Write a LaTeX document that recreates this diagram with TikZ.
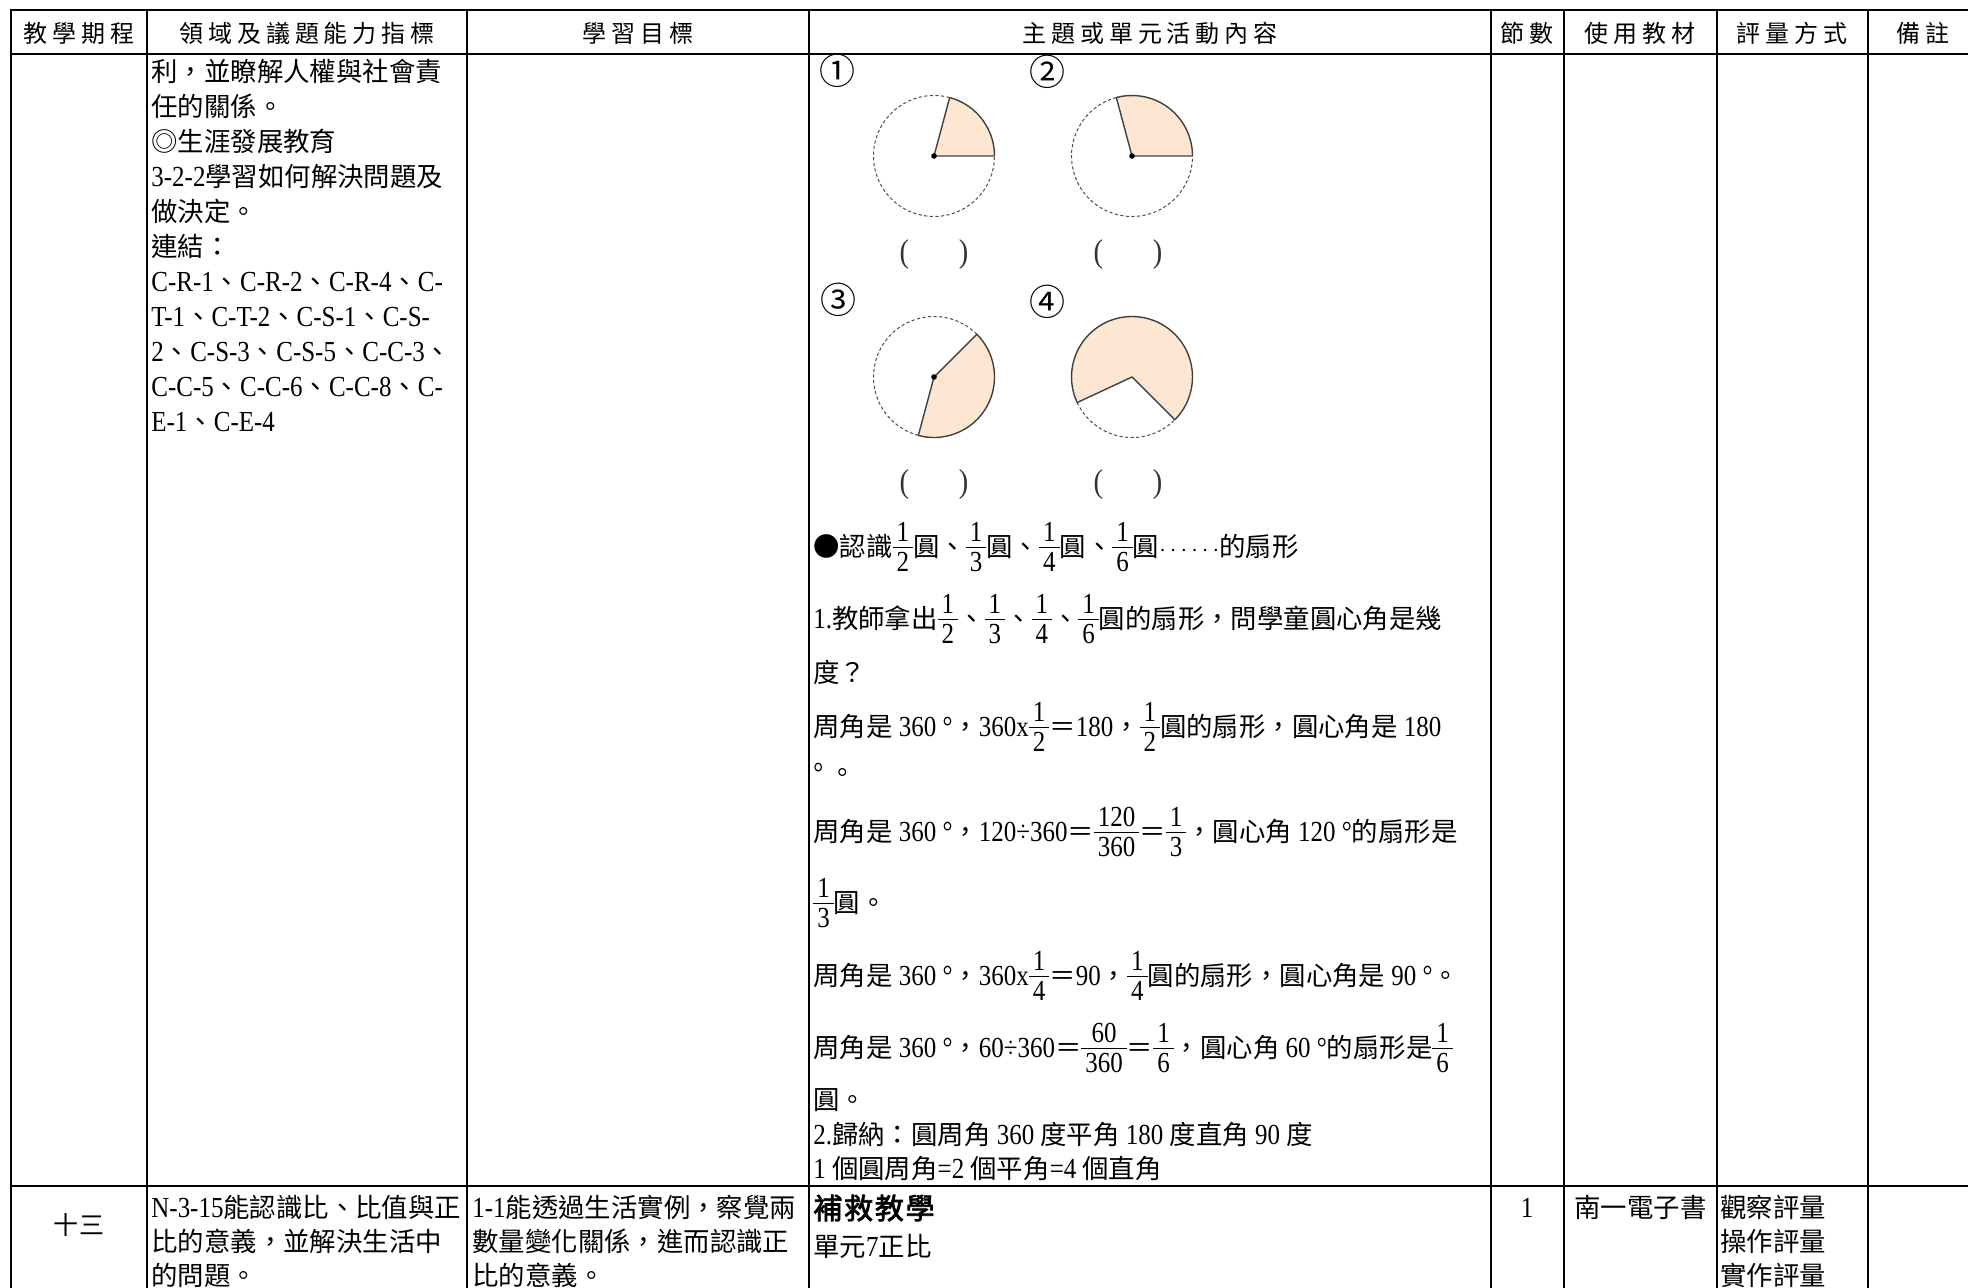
\documentclass[tikz,border=0pt]{standalone}
\usepackage{fontspec}
\setmainfont{Liberation Serif}[Scale=1.1,FakeStretch=0.86]
\newfontfamily\cjkbody{Noto Sans CJK TC}
\newfontfamily\cjkhead{Noto Sans CJK TC}[LetterSpace=20]
\newfontfamily\cjkbold{Noto Sans CJK TC}[FakeBold=2.5,LetterSpace=6]
\def\cjkfont{\cjkbody}
\def\latfont{\rmfamily}
% switch between Latin and CJK fonts by character class
\newXeTeXintercharclass\cjkclass
\newcount\cjkcnt
\def\setcjk#1#2{\cjkcnt=#1 \loop \XeTeXcharclass\cjkcnt=\cjkclass
  \ifnum\cjkcnt<#2 \advance\cjkcnt by 1 \repeat}
\setcjk{"3000}{"303F}
\setcjk{"4E00}{"9FFF}
\setcjk{"FF00}{"FFEF}
\setcjk{"25CE}{"25CF}
\setcjk{"2460}{"2473}
\XeTeXinterchartoks 0 \cjkclass = {\cjkfont}
\XeTeXinterchartoks 4095 \cjkclass = {\cjkfont}
\XeTeXinterchartoks \cjkclass 0 = {\latfont}
\XeTeXinterchartoks \cjkclass 4095 = {\latfont}
\XeTeXinterchartokenstate=1
% stacked fraction in the text font
\newcommand\fr[2]{{\renewcommand\arraystretch{1.0}\setlength\arrayrulewidth{0.6pt}%
  \begin{tabular}{@{\hspace{2pt}}c@{\hspace{2pt}}}#1\\[-2.5pt]\hline #2\end{tabular}}}
\definecolor{fanfill}{RGB}{253,231,211}

\begin{document}
\begin{tikzpicture}[x=0.5pt, y=-0.5pt,
  gridline/.style={line width=1.1pt, line cap=rect},
  headtxt/.style={inner sep=0pt, font=\fontsize{12}{14}\selectfont\def\cjkfont{\cjkhead}},
  bodytxt/.style={anchor=base west, inner sep=0pt, font=\fontsize{13.2}{17}\selectfont},
  boldtxt/.style={anchor=base west, inner sep=0pt, font=\fontsize{14.5}{17}\selectfont\def\cjkfont{\cjkbold}},
  numtxt/.style={inner sep=0pt, font=\fontsize{18}{20}\selectfont},
  partxt/.style={inner sep=0pt, font=\fontsize{15}{18}\selectfont, text=black!80},
  fanarea/.style={fill=fanfill},
  fanrim/.style={draw=black!70, line width=0.5pt, dash pattern=on 1.6pt off 1.2pt},
  fanside/.style={draw=black!75, line width=0.7pt, line join=round},
]
\useasboundingbox (0,0) rectangle (1968,1288);

% table rules
\foreach \x in {11,147,467,809,1491,1564,1717,1868}
  \draw[gridline] (\x,10) -- (\x,1288);
\foreach \y in {10,54,1186}
  \draw[gridline] (11,\y) -- (1968,\y);

% header row
\node[headtxt] (hd1) at (79,33) {教學期程};
\node[headtxt] (hd2) at (307,33) {領域及議題能力指標};
\node[headtxt] (hd3) at (638,33) {學習目標};
\node[headtxt] (hd4) at (1150,33) {主題或單元活動內容};
\node[headtxt] (hd5) at (1527,33) {節數};
\node[headtxt] (hd6) at (1640,33) {使用教材};
\node[headtxt] (hd7) at (1792,33) {評量方式};
\node[headtxt] (hd8) at (1923,33) {備註};

% indicators, first row
\foreach \txt [count=\i from 0] in {利，並瞭解人權與社會責,任的關係。,◎生涯發展教育,3-2-2學習如何解決問題及,做決定。,連結：,C-R-1、C-R-2、C-R-4、C-,T-1、C-T-2、C-S-1、C-S-,2、C-S-3、C-S-5、C-C-3、,C-C-5、C-C-6、C-C-8、C-,E-1、C-E-4}
  \node[bodytxt] (ind\i) at (151,{81.5+35*\i}) {\txt};

% the four sectors
\foreach \cx/\cy/\a/\b in {934/156/0/75, 1132/156/0/105, 934/377/-105/45, 1132/377/-45/205} {
  \begin{scope}[shift={(\cx,\cy)}, y=0.5pt]
    \fill[fanarea] (0,0) -- (\a:60.5) arc[start angle=\a, end angle=\b, radius=60.5] -- cycle;
    \draw[fanrim] (\b:60.5) arc[start angle=\b, end angle={\a+360}, radius=60.5];
    \draw[fanside] (\a:60.5) -- (0,0) -- (\b:60.5);
    \draw[fanside] (\a:60.5) arc[start angle=\a, end angle=\b, radius=60.5];
  \end{scope}
}
\foreach \cx/\cy in {934/156, 1132/156, 934/377}
  \fill (\cx,\cy) circle[radius=1.4pt];

\node[numtxt] (n1) at (837,71) {①};
\node[numtxt] (n2) at (1047,72) {②};
\node[numtxt] (n3) at (838,300) {③};
\node[numtxt] (n4) at (1047,302) {④};
\node[partxt] (p1) at (934,255) {(\hspace{25pt})};
\node[partxt] (p2) at (1128,255) {(\hspace{25pt})};
\node[partxt] (p3) at (934,485) {(\hspace{25pt})};
\node[partxt] (p4) at (1128,485) {(\hspace{25pt})};

% activity text
\node[bodytxt] (act1) at (813,556) {●認識\fr{1}{2}圓、\fr{1}{3}圓、\fr{1}{4}圓、\fr{1}{6}圓$\cdots\cdots$的扇形};
\node[bodytxt] (act2) at (813,628) {1.教師拿出\fr{1}{2}、\fr{1}{3}、\fr{1}{4}、\fr{1}{6}圓的扇形，問學童圓心角是幾};
\node[bodytxt] (act3) at (813,682) {度？};
\node[bodytxt] (act4) at (813,736) {周角是 360 °，360x\fr{1}{2}＝180，\fr{1}{2}圓的扇形，圓心角是 180};
\node[bodytxt] (act5) at (813,782) {° 。};
\node[bodytxt] (act6) at (813,841) {周角是 360 °，120÷360＝\fr{120}{360}＝\fr{1}{3}，圓心角 120 °的扇形是};
\node[bodytxt] (act7) at (813,912) {\fr{1}{3}圓。};
\node[bodytxt] (act8) at (813,985) {周角是 360 °，360x\fr{1}{4}＝90，\fr{1}{4}圓的扇形，圓心角是 90 °。};
\node[bodytxt] (act9) at (813,1057) {周角是 360 °，60÷360＝\fr{60}{360}＝\fr{1}{6}，圓心角 60 °的扇形是\fr{1}{6}};
\node[bodytxt] (act10) at (813,1109) {圓。};
\node[bodytxt] (act11) at (813,1144.5) {2.歸納：圓周角 360 度平角 180 度直角 90 度};
\node[bodytxt] (act12) at (813,1178.5) {1 個圓周角=2 個平角=4 個直角};

% second row
\node[font=\fontsize{12.5}{15}\selectfont] (wk13) at (79,1225) {十三};
\node[bodytxt] (ind-a) at (151,1217) {N-3-15能認識比、比值與正};
\node[bodytxt] (ind-b) at (151,1251) {比的意義，並解決生活中};
\node[bodytxt] (ind-c) at (151,1285) {的問題。};
\node[bodytxt] (goal-a) at (472,1217) {1-1能透過生活實例，察覺兩};
\node[bodytxt] (goal-b) at (472,1251) {數量變化關係，進而認識正};
\node[bodytxt] (goal-c) at (472,1285) {比的意義。};
\node[boldtxt] (rem) at (813,1219) {補救教學};
\node[bodytxt] (unit) at (813,1256) {單元7正比};
\node[bodytxt, anchor=base] (cnt) at (1527,1217) {1};
\node[bodytxt] (book) at (1574,1217) {南一電子書};
\node[bodytxt] (ev1) at (1720,1217) {觀察評量};
\node[bodytxt] (ev2) at (1720,1251) {操作評量};
\node[bodytxt] (ev3) at (1720,1285) {實作評量};
\end{tikzpicture}
\end{document}
